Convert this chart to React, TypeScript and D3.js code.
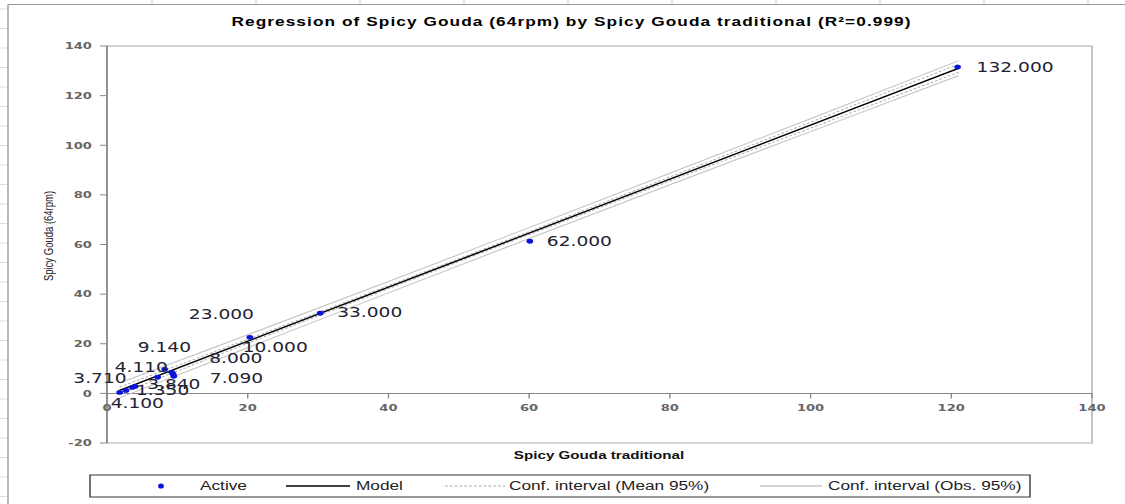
import React from 'react';
import * as d3 from 'd3';

// observations (x = Spicy Gouda traditional, y = Spicy Gouda 64rpm)
const xValues = [120.9, 60.1, 30.3, 20.3, 8.2, 9.2, 9.4, 9.5, 7.2, 4.0, 3.6, 2.7, 1.8];
const yValues = [131.5, 61.3, 32.3, 22.6, 9.7, 8.5, 7.7, 6.9, 6.5, 2.8, 2.4, 1.2, 0.4];
const pointLabels = ['132.000', '62.000', '33.000', '23.000', '10.000', '9.140', '8.000', '7.090', '4.110', '3.840', '3.710', '1.350', '4.100'];

// model line and confidence bands
const modelX = [1.8, 121];
const modelY = [1.2, 131.0];
const bandX = [1.8, 20, 40, 60, 80, 100, 121];
const meanUpper = [2.6, 21.8, 43.4, 65.2, 87.2, 109.3, 132.6];
const meanLower = [-0.2, 20.2, 42.2, 64.0, 85.6, 106.9, 129.4];
const obsUpper = [4.2, 23.6, 45.1, 66.8, 88.7, 110.7, 134.0];
const obsLower = [-1.8, 18.4, 40.5, 62.4, 84.1, 105.5, 128.0];

const xTicks = [0, 20, 40, 60, 80, 100, 120, 140];
const yTicks = [-20, 0, 20, 40, 60, 80, 100, 120, 140];

// label placement (screen px from the point: dx, dy)
const labelOffsets: [number, number][] = [
  [19, 5], [17, 5], [17, 4], [-61, -18], [78, -17], [-34, -20], [36, -11],
  [36, 7], [-43, -5], [12, 3], [-59, -4], [10, 5], [-9, 16],
];

const W = 1125;
const H = 504;
const S = 1.38; // the picture is stretched horizontally
const VW = W / S;
const px = (v: number) => v / S;

const App: React.FC = () => {
  const left = px(107), right = px(1092), top = 46, bottom = 443;
  const x = d3.scaleLinear().domain([0, 140]).range([left, right]);
  const y = d3.scaleLinear().domain([-20, 140]).range([bottom, top]);
  const y0 = y(0);

  const band = d3.line<number>((d, i) => x(bandX[i]), d => y(d)).curve(d3.curveMonotoneX);
  const model = d3.line<number>((d, i) => x(modelX[i]), d => y(d));

  const tickFont = { fontFamily: 'DejaVu Sans', fontSize: 9.5, fontWeight: 'bold', fill: '#666' };
  const sans = 'Liberation Sans, Arial, sans-serif';
  const legY = 486;

  return (
    <svg width={W} height={H} viewBox={`0 0 ${VW} ${H}`} preserveAspectRatio="none"
      style={{ position: 'absolute', left: 0, top: 0, display: 'block', background: '#fff' }}>
      {/* sheet frame */}
      <g stroke="#999" strokeWidth={1}>
        <line x1={px(8)} x2={VW} y1={4.5} y2={4.5} />
        <line x1={px(8)} x2={px(8)} y1={4.5} y2={H} />
      </g>
      <g stroke="#ddd" strokeWidth={1}>
        {d3.range(9, H, 19.5).map((v, i) => (
          <line key={'l' + i} x1={0} x2={px(7)} y1={v} y2={v} />
        ))}
        {d3.range(152, W, 104).map((v, i) => (
          <line key={'t' + i} x1={px(v)} x2={px(v)} y1={0} y2={4} />
        ))}
      </g>

      <text x={px(571)} y={26} textAnchor="middle" fontFamily={sans} fontWeight="bold"
        fontSize={12.5} textLength={px(679)} lengthAdjust="spacing" fill="#000">
        Regression of Spicy Gouda (64rpm) by Spicy Gouda traditional (R²=0.999)
      </text>

      {/* plot frame */}
      <rect x={left} y={top} width={right - left} height={bottom - top} fill="none" stroke="#aaa" strokeWidth={1} />
      <line x1={left} x2={left} y1={top} y2={bottom} stroke="#888" strokeWidth={1.2} />
      <line x1={left} x2={right} y1={y0} y2={y0} stroke="#888" strokeWidth={1} />

      {yTicks.map(t => (
        <g key={'y' + t}>
          <line x1={left - px(7)} x2={left} y1={y(t)} y2={y(t)} stroke="#888" />
          <text x={px(92)} y={y(t)} dy="0.35em" textAnchor="end" {...tickFont}>{t}</text>
        </g>
      ))}
      {xTicks.map(t => (
        <g key={'x' + t}>
          <line x1={x(t)} x2={x(t)} y1={y0} y2={y0 + 5} stroke="#888" />
          <text x={x(t)} y={411} textAnchor="middle" {...tickFont}>{t}</text>
        </g>
      ))}

      <text transform={`translate(${px(53)},236) rotate(-90)`} textAnchor="middle"
        fontFamily={sans} fontSize={9.5} fill="#222">Spicy Gouda (64rpm)</text>
      <text x={px(599)} y={459} textAnchor="middle" fontFamily={sans} fontWeight="bold"
        fontSize={11} fill="#111">Spicy Gouda traditional</text>

      {/* bands and model */}
      <g fill="none">
        <path d={band(obsUpper) ?? ''} stroke="#c4c4c4" strokeWidth={1} />
        <path d={band(obsLower) ?? ''} stroke="#c4c4c4" strokeWidth={1} />
        <path d={band(meanUpper) ?? ''} stroke="#b0b0b0" strokeWidth={1} strokeDasharray="2,1.5" />
        <path d={band(meanLower) ?? ''} stroke="#b0b0b0" strokeWidth={1} strokeDasharray="2,1.5" />
        <path d={model(modelY) ?? ''} stroke="#000" strokeWidth={1.4} />
      </g>

      {xValues.map((d, i) => (
        <circle key={'p' + i} cx={x(d)} cy={y(yValues[i])} r={2.4} fill="#0a14d8" />
      ))}
      {xValues.map((d, i) => (
        <text key={'lb' + i} x={x(d) + px(labelOffsets[i][0])} y={y(yValues[i]) + labelOffsets[i][1]}
          fontFamily="DejaVu Sans" fontSize={13.5} fill="#222233">{pointLabels[i]}</text>
      ))}

      {/* legend */}
      <rect x={px(90)} y={475} width={px(1030 - 90)} height={22} fill="#fff" stroke="#555" strokeWidth={1.2} />
      <g fontFamily={sans} fontSize={12.5} fill="#222">
        <ellipse cx={px(161)} cy={legY} rx={2.1} ry={2.6} fill="#0a14d8" />
        <text x={px(200)} y={legY + 4.5}>Active</text>
        <line x1={px(286)} x2={px(350)} y1={legY} y2={legY} stroke="#000" strokeWidth={1.3} />
        <text x={px(356)} y={legY + 4.5}>Model</text>
        <line x1={px(445)} x2={px(505)} y1={legY} y2={legY} stroke="#aaa" strokeDasharray="2,1.5" />
        <text x={px(509)} y={legY + 4.5}>Conf. interval (Mean 95%)</text>
        <line x1={px(760)} x2={px(822)} y1={legY} y2={legY} stroke="#aaa" />
        <text x={px(828)} y={legY + 4.5}>Conf. interval (Obs. 95%)</text>
      </g>
    </svg>
  );
};

export default App;
